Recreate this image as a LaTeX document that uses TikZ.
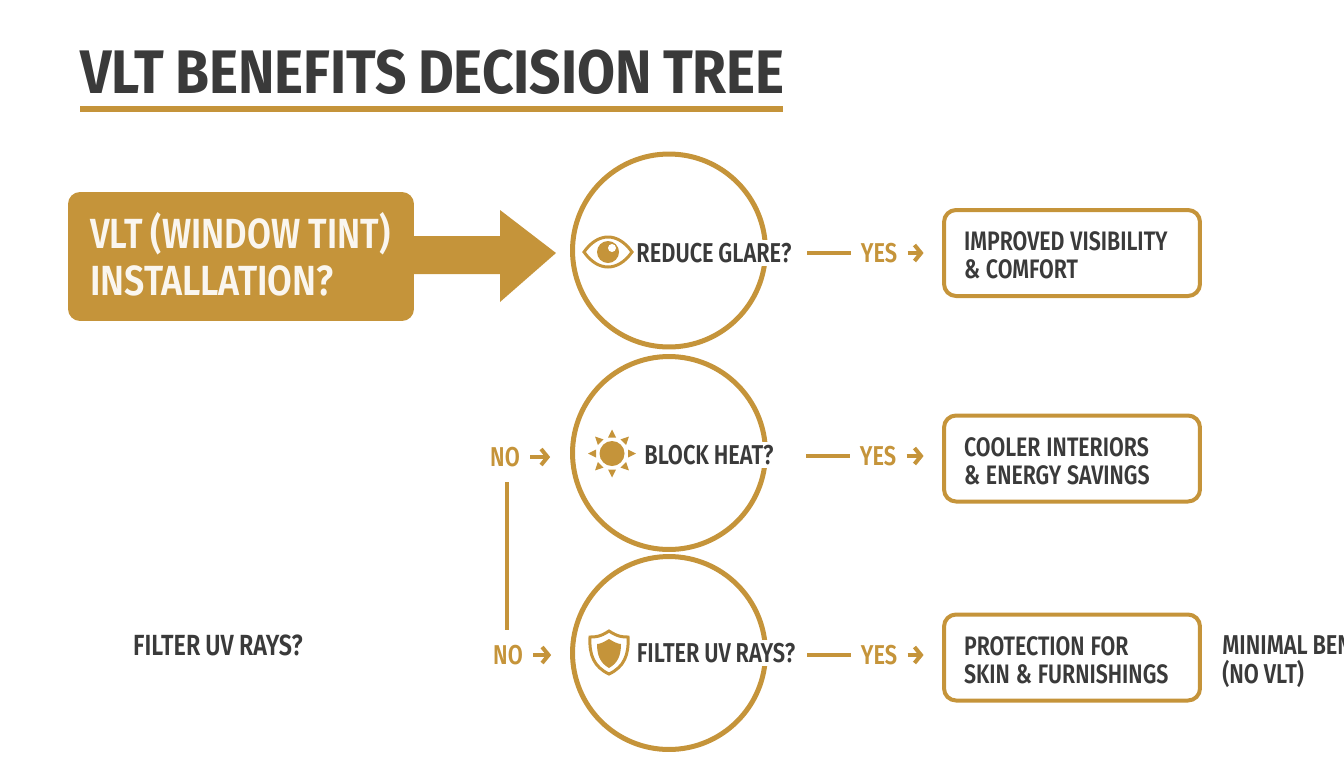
\documentclass[tikz,border=0pt]{standalone}
\usepackage{fontspec}
\usepackage{xcolor}
\usepackage{graphicx}
\setmainfont{Fira Sans}
\newfontfamily\condfont[FakeStretch=0.80,WordSpace=0.9]{Fira Sans SemiBold}
\newfontfamily\startfont[FakeStretch=0.85,WordSpace=0.9]{Fira Sans SemiBold}
\newfontfamily\titlefont[FakeStretch=0.895,WordSpace=0.85]{Fira Sans}
\usetikzlibrary{positioning,calc,arrows.meta}
\definecolor{tintgold}{HTML}{C5943A}
\definecolor{tintdark}{HTML}{3A3A3A}
\tikzset{
    circlenode/.style={circle,draw=tintgold,line width=0.1cm,minimum size=3.86cm,inner sep=0pt},
    question/.style={fill=white,text=tintdark,inner sep=0.06cm,font=\condfont\fontsize{15.5}{18}\selectfont},
    answer/.style={text=tintgold,inner sep=0pt,font=\condfont\fontsize{15.5}{18}\selectfont},
    outcome/.style={draw=tintgold,line width=0.08cm,rounded corners=0.24cm,minimum width=5.12cm,minimum height=1.72cm,
        text width=4.32cm,inner sep=0pt,align=left,text=tintdark,font=\condfont\fontsize{15.2}{16}\selectfont,
        execute at begin node={\spaceskip=0.22em\relax\rule{0pt}{13.5pt}}},
    plainlabel/.style={text=tintdark,inner sep=0pt,align=left,font=\condfont\fontsize{15.5}{16.4}\selectfont},
    goldline/.style={draw=tintgold,line width=0.09cm},
    goldarrow/.style={draw=tintgold,line width=0.08cm,-{Straight Barb[length=0.13cm,width=0.32cm,line width=0.08cm]}},
}
\begin{document}
\begin{tikzpicture}[x=0.02cm,y=-0.02cm]
    \useasboundingbox (0,0) rectangle (1344,768);

    % title
    \node [anchor=base west,inner sep=0pt,text=tintdark,font=\titlefont\bfseries\fontsize{35}{40}\selectfont] (title) at (80,93) {VLT BENEFITS DECISION TREE};
    \draw [tintgold,line width=0.12cm] (title.west |- 0,108.5) -- (783,108.5);

    % start box and block arrow
    \fill [tintgold] (414,236) -- (500,236) -- (500,210) -- (556,253) -- (500,302) -- (500,274) -- (414,274) -- cycle;
    \node [fill=tintgold,rounded corners=0.24cm,minimum width=6.92cm,minimum height=2.58cm,text width=6.04cm,inner sep=0pt,align=left,
        text=white!92!tintgold,font=\startfont\fontsize{24}{26.6}\selectfont,
        execute at begin node={\spaceskip=0.2em\relax}] (start) at (241,256.5) {\scalebox{0.968}[1]{VLT (WINDOW TINT)}\\INSTALLATION?\rule[-3pt]{0pt}{3pt}};

    % circles
    \node [circlenode] (circle1) at (669,250.5) {};
    \node [circlenode] (circle2) at (669,453) {};
    \node [circlenode] (circle3) at (669,653) {};

    % questions
    \node [question] (q1) at (714,253) {REDUCE GLARE?};
    \node [question] (q2) at (709,455) {BLOCK HEAT?};
    \node [question] (q3) at (716,653) {FILTER UV RAYS?};
    \node [plainlabel,font=\condfont\fontsize{16.6}{18}\selectfont] (q4) at (218,645) {FILTER UV RAYS?};

    % eye icon
    \draw [tintgold,line width=0.06cm] (584,252) .. controls (598,232) and (618,232) .. (632,252) .. controls (618,272) and (598,272) .. (584,252) -- cycle;
    \fill [tintgold] (608,252) circle (11);
    \fill [white] (612,248) circle (4);
    % sun icon
    \fill [tintgold] (612,453.5) circle (12.5);
    \foreach \a in {0,45,...,315} {
        \fill [tintgold,rotate around={\a:(612,453.5)}] (608,437.5) -- (612,429.5) -- (616,437.5) -- cycle;
    }
    % shield icon
    \draw [tintgold,line width=0.06cm] (609,631) .. controls (600,637) and (595,637) .. (590,637) .. controls (589,655) and (594,667) .. (609,674) .. controls (624,667) and (629,655) .. (628,637) .. controls (623,637) and (618,637) .. (609,631) -- cycle;
    \fill [tintgold] (609,639) .. controls (604,642) and (600,644) .. (597,644) .. controls (597,655) and (600,663) .. (609,668) .. controls (618,663) and (621,655) .. (621,644) .. controls (618,644) and (614,642) .. (609,639) -- cycle;

    % answers
    \node [answer] (yes1) at (879,253) {YES};
    \node [answer] (yes2) at (878,456) {YES};
    \node [answer] (yes3) at (879,655) {YES};
    \node [answer] (no1) at (505,457) {NO};
    \node [answer] (no2) at (508,655) {NO};

    % outcomes
    \node [outcome] (box1) at (1072,253) {IMPROVED VISIBILITY\\\& COMFORT};
    \node [outcome] (box2) at (1072,458.5) {COOLER INTERIORS\\\& ENERGY SAVINGS};
    \node [outcome] (box3) at (1072,657.5) {PROTECTION FOR\\SKIN \& FURNISHINGS};
    \node [plainlabel,anchor=west] (box4) at (1222,661.5) {MINIMAL BEN\\(NO VLT)};

    % connectors
    \coordinate (c1) at (807,253);
    \coordinate (c2) at (806,456);
    \coordinate (c3) at (807,655);
    \draw [goldline,shorten >=5.7pt] (c1) -- (yes1.west);
    \draw [goldline,shorten >=5.7pt] (c2) -- (yes2.west);
    \draw [goldline,shorten >=5.7pt] (c3) -- (yes3.west);
    \draw [goldarrow,shorten <=5.7pt,shorten >=10.5pt] (yes1.east) -- (box1.west);
    \draw [goldarrow,shorten <=5.7pt,shorten >=10.5pt] (yes2.east) -- (box2.west |- yes2);
    \draw [goldarrow,shorten <=5.7pt,shorten >=10.5pt] (yes3.east) -- (box3.west |- yes3);
    \draw [goldarrow,shorten <=5.7pt] (no1.east) -- ++(30,0);
    \draw [goldarrow,shorten <=5.7pt] (no2.east) -- ++(28,0);
    \draw [goldline] ($(no1.south)+(2,15)$) -- ($(no2.north)+(-1,-15)$);
\end{tikzpicture}
\end{document}
